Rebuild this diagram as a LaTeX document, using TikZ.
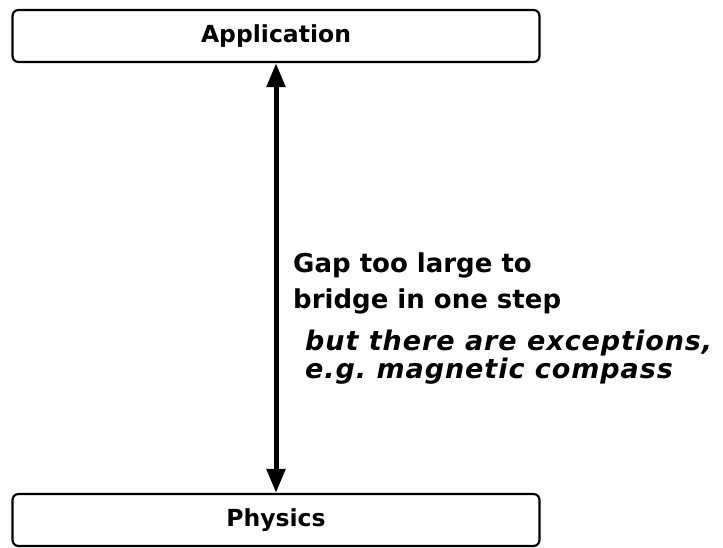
\documentclass[tikz,border=0pt]{standalone}
\usepackage{fontspec}
\setmainfont{DejaVu Sans}
\usetikzlibrary{positioning,arrows.meta}

\begin{document}
\begin{tikzpicture}[
    x=1pt, y=-1pt,
    layer/.style={draw, line width=2.2pt, rounded corners=6pt, minimum width=527pt, minimum height=52pt, font=\fontsize{23.5}{28}\selectfont\bfseries, inner sep=0pt},
    gapnote/.style={align=left, font=\fontsize{26}{36}\selectfont\bfseries, inner sep=0pt},
    asidenote/.style={align=left, font=\fontsize{27}{27.5}\selectfont\bfseries\itshape\addfontfeature{LetterSpace=3.5}, inner sep=0pt},
    bigarrow/.style={{Triangle[length=24pt,width=18pt]}-{Triangle[length=24pt,width=18pt]}, line width=5pt},
]
\useasboundingbox (0,0) rectangle (723,548);

\node[layer] (app) at (276,36) {Application};
\node[layer] (phys) at (276,520) {Physics};

\draw[bigarrow] (app) -- (phys);

\node[gapnote, anchor=north west] (gap) at (293,253) {Gap too large to\\bridge in one step};
\node[asidenote, anchor=north west] (aside) at (305,330) {but there are exceptions,\\e.g.\ magnetic compass};

\end{tikzpicture}
\end{document}
